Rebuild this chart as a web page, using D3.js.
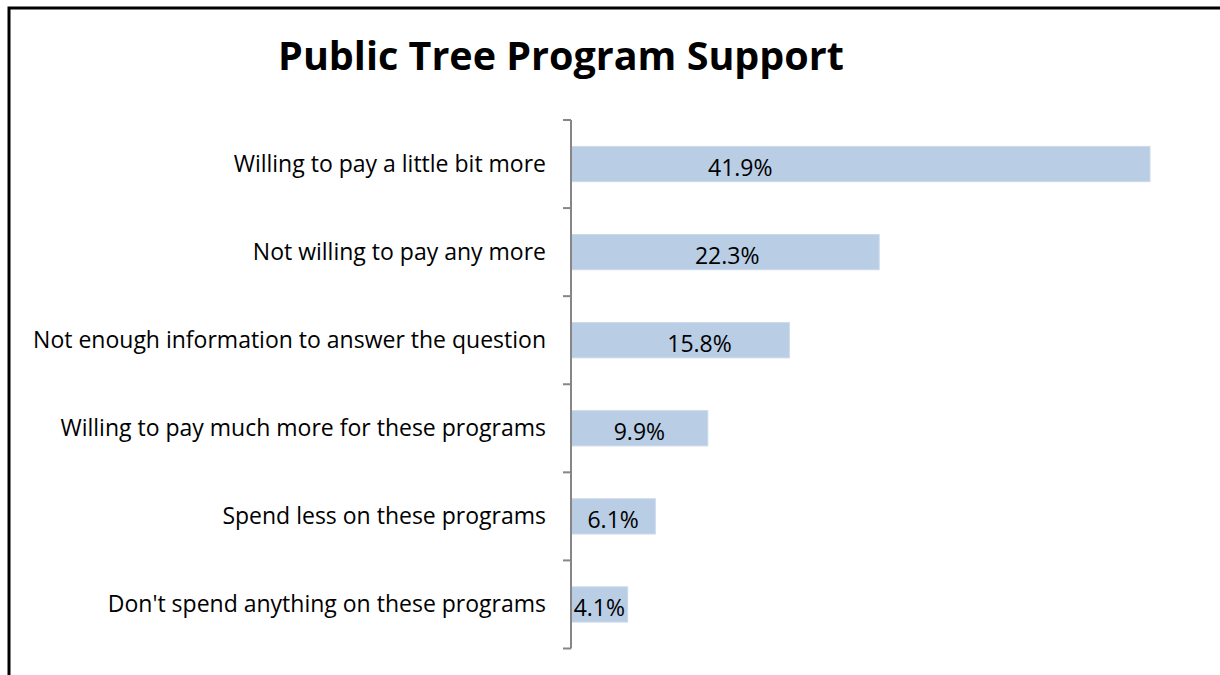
<!DOCTYPE html>
<html>
<head>
<meta charset="utf-8">
<script src="https://cdn.jsdelivr.net/npm/d3@7"></script>
<style>
  html, body { margin: 0; padding: 0; background: #fff; overflow: hidden; }
  svg { display: block; font-family: "Open Sans", sans-serif; }
</style>
</head>
<body>
<svg id="chart" width="1220" height="675"></svg>
<script>
// Survey answers, top to bottom
const categories = [
  'Willing to pay a little bit more',
  'Not willing to pay any more',
  'Not enough information to answer the question',
  'Willing to pay much more for these programs',
  'Spend less on these programs',
  "Don't spend anything on these programs"
];
const values = [41.9, 22.3, 15.8, 9.9, 6.1, 4.1];
// where each data label sits, in percent units (the top two were dragged off-centre)
const labelAt = [12.25, 11.3, 9.3, 4.95, 3.05, 2.05];

const svg = d3.select('#chart');
const width = 1220, height = 675;
const margin = { top: 120, left: 571, bottom: 675 - 648.5 };

svg.append('rect')
  .attr('width', width).attr('height', height)
  .attr('fill', '#fff');

// outer frame: only the top and left edges fall inside the picture
svg.append('path')
  .attr('d', `M9,${height} V8 H${width}`)
  .attr('fill', 'none')
  .attr('stroke', '#000')
  .attr('stroke-width', 3);

svg.append('text')
  .attr('x', 561).attr('y', 70)
  .attr('text-anchor', 'middle')
  .attr('font-size', 39.5)
  .attr('font-weight', 'bold')
  .attr('fill', '#000')
  .text('Public Tree Program Support');

const x = d3.scaleLinear().domain([0, 41.9]).range([margin.left, 1150]);
const y = d3.scaleBand()
  .domain(categories)
  .range([margin.top, height - margin.bottom])
  .paddingInner(0.6)
  .paddingOuter(0.3);

const rows = categories.map((c, i) => ({ cat: c, v: values[i], lab: labelAt[i] }));

svg.append('g').selectAll('rect')
  .data(rows)
  .join('rect')
    .attr('x', x(0))
    .attr('y', d => y(d.cat))
    .attr('width', d => x(d.v) - x(0))
    .attr('height', y.bandwidth())
    .attr('fill', '#B9CDE5')
    .attr('stroke', '#C9D9EC')
    .attr('stroke-width', 1);

svg.append('g').selectAll('text')
  .data(rows)
  .join('text')
    .attr('x', d => x(d.lab))
    .attr('y', d => y(d.cat) + y.bandwidth() / 2 + 12)
    .attr('text-anchor', 'middle')
    .attr('font-size', 23)
    .attr('fill', '#000')
    .text(d => d.v.toFixed(1) + '%');

// category axis: boundary ticks between bands
const step = y.step();
const bounds = d3.range(categories.length + 1).map(i => margin.top + i * step);
const axis = svg.append('g');
axis.append('line')
  .attr('x1', x(0)).attr('x2', x(0))
  .attr('y1', bounds[0]).attr('y2', bounds[bounds.length - 1])
  .attr('stroke', '#868686').attr('stroke-width', 2);
axis.selectAll('line.tick')
  .data(bounds)
  .join('line')
    .attr('class', 'tick')
    .attr('x1', x(0) - 8).attr('x2', x(0))
    .attr('y1', d => d).attr('y2', d => d)
    .attr('stroke', '#868686').attr('stroke-width', 2);

axis.selectAll('text')
  .data(categories)
  .join('text')
    .attr('x', 546)
    .attr('y', d => y(d) + y.bandwidth() / 2 + 7.5)
    .attr('text-anchor', 'end')
    .attr('font-size', 23)
    .attr('fill', '#000')
    .text(d => d);
</script>
</body>
</html>
